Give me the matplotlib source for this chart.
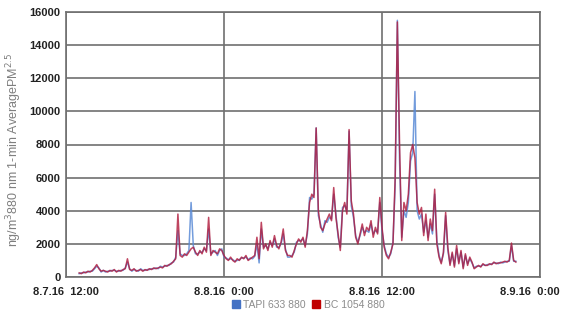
import matplotlib
matplotlib.use('Agg')
import matplotlib.pyplot as plt
from matplotlib.patches import Patch
import pandas as pd

# 10-minute readings from 8.7.16 13:00 (ng/m3)
start = '2016-08-07 13:00'
bc = [250, 200, 300, 250, 350, 300,
      400, 550, 750, 500, 350, 400,
      350, 300, 400, 350, 450, 300,
      400, 350, 450, 500, 1100, 450,
      400, 500, 350, 400, 450, 350,
      450, 400, 500, 450, 550, 500,
      550, 600, 550, 700, 650, 750,
      800, 950, 1100, 3800, 1300, 1200,
      1400, 1300, 1500, 1700, 1800, 1500,
      1300, 1600, 1400, 1800, 1500, 3600,
      1300, 1600, 1500, 1400, 1700, 1600,
      1300, 1100, 1000, 1200, 1000, 900,
      1100, 1000, 1200, 1100, 1300, 1000,
      1100, 1200, 1300, 2400, 1100, 3300,
      1700, 2000, 1600, 2200, 1800, 2500,
      1900, 1700, 2100, 2900, 1600, 1300,
      1300, 1200, 1600, 2000, 2300, 2100,
      2400, 1800, 2800, 4500, 5000, 4800,
      9000, 4000, 3000, 2800, 3200, 3500,
      3800, 3400, 5400, 3600, 2600, 1600,
      4000, 4500, 3800, 8900, 4600, 3800,
      2400, 2000, 2600, 3200, 2500, 3000,
      2800, 3400, 2400, 3000, 2600, 4800,
      3000, 1800, 1300, 1100, 1500, 2000,
      6000, 15400, 8000, 2200, 4500, 4000,
      5000, 7500, 8000, 7200, 4500, 3800,
      4200, 2500, 3800, 2200, 3500, 2800,
      5300, 2000, 1200, 800, 1500, 3900,
      1800, 700, 1500, 600, 1900, 800,
      1600, 500, 1400, 700, 1200, 900,
      500, 600, 700, 600, 800, 700,
      700, 800, 750, 900, 800, 850,
      850, 900, 950, 900, 1000, 2050,
      1000, 900]

tapi = [200, 250, 250, 300, 300, 350,
        350, 500, 650, 550, 300, 400,
        300, 350, 350, 400, 400, 350,
        350, 400, 400, 550, 900, 500,
        350, 450, 400, 350, 500, 400,
        400, 450, 450, 500, 500, 550,
        500, 650, 600, 650, 700, 700,
        850, 900, 1200, 2800, 1400, 1300,
        1300, 1400, 1600, 4500, 1900, 1400,
        1400, 1500, 1500, 1700, 1600, 2900,
        1400, 1500, 1600, 1300, 1600, 1700,
        1200, 1150, 1050, 1100, 1050, 950,
        1000, 1050, 1150, 1150, 1200, 1050,
        1150, 1100, 1250, 2000, 850, 2900,
        1800, 1900, 1700, 2100, 1900, 2300,
        1800, 1800, 2000, 2600, 1700, 1200,
        1200, 1300, 1500, 2100, 2200, 2200,
        2300, 1900, 2600, 4800, 4700, 5000,
        9000, 3700, 3200, 2700, 3400, 3300,
        3600, 3500, 5000, 3800, 2400, 1800,
        4200, 4300, 4000, 8800, 4300, 3600,
        2500, 2100, 2500, 3000, 2700, 2800,
        2700, 3200, 2600, 2800, 2700, 4500,
        2800, 1900, 1400, 1200, 1400, 2100,
        5500, 15500, 7000, 2400, 4000, 3600,
        4500, 7000, 7500, 11200, 4000, 3500,
        3800, 2700, 3400, 2400, 3200, 2600,
        5000, 2200, 1300, 900, 1400, 3700,
        1600, 800, 1400, 700, 1700, 900,
        1500, 600, 1300, 800, 1100, 850,
        550, 650, 650, 650, 750, 700,
        750, 750, 800, 850, 850, 800,
        900, 850, 900, 950, 950, 1900,
        950, 950]

tick_times = ['2016-08-07 12:00', '2016-08-08 00:00', '2016-08-08 12:00', '2016-08-09 00:00']
tick_labels = ['8.7.16  12:00', '8.8.16  0:00', '8.8.16  12:00', '8.9.16  0:00']

times = pd.date_range(start, periods=len(bc), freq='10min')

plt.rcParams['font.family'] = ['Liberation Sans', 'DejaVu Sans']

fig = plt.figure(figsize=(5.63, 3.16), dpi=100)
ax = fig.add_axes([66/563, 1-277/316, 474/563, 265/316])

ax.plot(times, tapi, color='#5B8BD6', lw=1.1, alpha=0.85)
ax.plot(times, bc, color='#B0183A', lw=1.1, alpha=0.8)

ax.set_xlim(pd.Timestamp(tick_times[0]), pd.Timestamp(tick_times[-1]))
ax.set_ylim(0, 16000)
ax.set_yticks(range(0, 16001, 2000))
ax.set_xticks(pd.to_datetime(tick_times))
# last label is pushed left so it fits in the picture, drawn separately below
ax.set_xticklabels(tick_labels[:-1] + [''])
ax.grid(True, color='#707070', lw=1.2)
ax.set_axisbelow(True)
for s in ax.spines.values():
    s.set_color('#707070')
    s.set_linewidth(1.2)
ax.tick_params(length=0, labelsize=8, labelcolor='#222222')
ax.tick_params(axis='x', pad=7)
ax.tick_params(axis='y', pad=4)
for t in ax.get_xticklabels() + ax.get_yticklabels():
    t.set_fontweight('bold')
fig.text(560/563, 1-292/316, tick_labels[-1], ha='right', va='center', fontsize=8,
         fontweight='bold', color='#222222')

ax.set_ylabel('ng/m$^3$880 nm 1-min AveragePM$^{2.5}$', color='#7f7f7f', fontsize=9)
ax.yaxis.set_label_coords((24 - 66) / 474, (277 - 150) / 265)

handles = [Patch(color='#4472C4', label='TAPI 633 880'), Patch(color='#C00000', label='BC 1054 880')]
fig.legend(handles=handles, loc='center', bbox_to_anchor=(308/563, 1-305/316), ncol=2, frameon=False,
           fontsize=7.5, handlelength=0.8, handleheight=0.8, handletextpad=0.3, columnspacing=0.6,
           labelcolor='#8c8c8c')

fig.savefig('out.png', dpi=100)
